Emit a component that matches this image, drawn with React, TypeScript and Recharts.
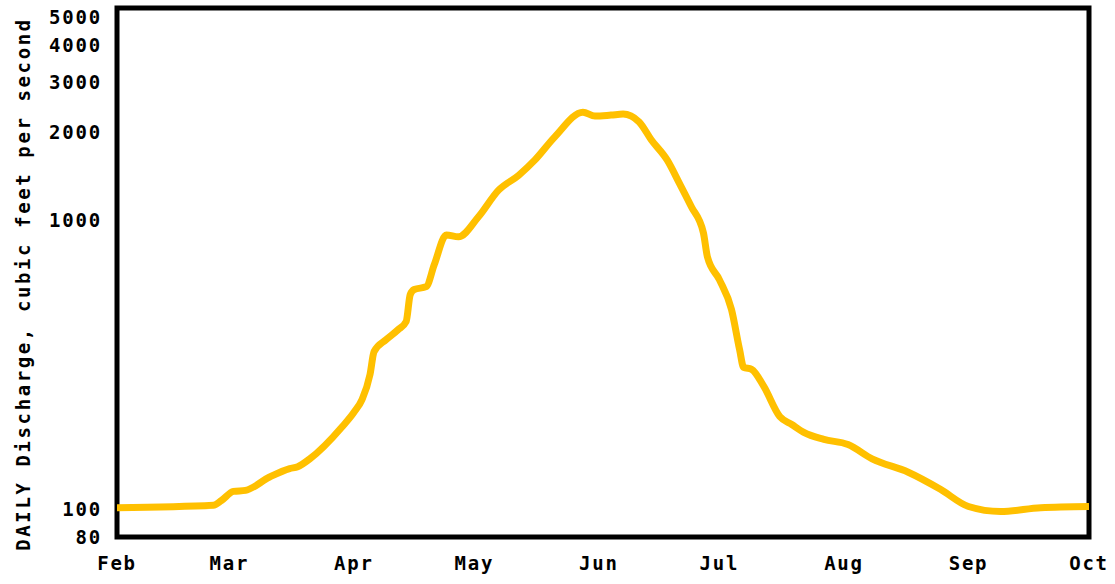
import React from 'react';
import { LineChart, Line, XAxis, YAxis, ReferenceArea, Label } from 'recharts';

const days = [0, 24, 26, 29, 32, 38, 43, 45, 48, 56, 59, 61, 63, 64, 67, 70, 72, 73, 74, 77, 79, 82, 85, 90, 95, 100, 104, 109, 116, 119, 123, 126, 130, 133, 137, 140, 143, 146, 147, 150, 153, 155, 156, 158, 161, 165, 168, 171, 176, 182, 188, 197, 205, 212, 220, 230, 242];
const discharge = [101, 103, 107, 115, 116, 129, 138, 140, 149, 192, 216, 239, 292, 350, 385, 417, 445, 551, 574, 587, 700, 886, 873, 1024, 1266, 1425, 1608, 1936, 2354, 2284, 2302, 2320, 2179, 1892, 1608, 1339, 1109, 901, 744, 620, 489, 356, 309, 304, 266, 209, 196, 184, 174, 167, 149, 134, 117, 102, 98, 101, 102];

const monthTicks = [0, 28, 59, 89, 120, 150, 181, 212, 242];
const monthLabels = ['Feb', 'Mar', 'Apr', 'May', 'Jun', 'Jul', 'Aug', 'Sep', 'Oct'];
const yTicks = [80, 100, 1000, 2000, 3000, 4000, 5000];
const yTitle = 'DAILY Discharge, cubic feet per second';

const data = days.map((d, i) => ({ day: d, q: discharge[i] }));

const FONT = '"DejaVu Sans Mono", "Liberation Mono", monospace';
const tickStyle = { fill: '#000', fontSize: 19, fontFamily: FONT, fontWeight: 'bold', letterSpacing: 1.8 } as any;

export default function App() {
  return (
    <div style={{ position: 'absolute', left: 0, top: 0, background: '#fff' }}>
      <LineChart width={1115} height={584} data={data} margin={{ top: 8, right: 26, bottom: 17, left: 0 }}>
        <XAxis
          dataKey="day"
          type="number"
          domain={[0, 242]}
          ticks={monthTicks}
          interval={0}
          tickFormatter={(v: number) => monthLabels[monthTicks.indexOf(v)]}
          axisLine={false}
          tickLine={false}
          tickSize={6}
          tickMargin={14}
          height={30}
          allowDataOverflow
          tick={tickStyle}
        />
        <YAxis
          type="number"
          scale="log"
          domain={[80, 5400]}
          ticks={yTicks}
          interval={0}
          width={117}
          axisLine={false}
          tickLine={false}
          tickSize={6}
          tickMargin={9}
          allowDataOverflow
          tick={tickStyle}
        >
          <Label
            content={() => (
              <text
                x={23}
                y={284}
                transform="rotate(-90 23 284)"
                textAnchor="middle"
                dominantBaseline="central"
                fill="#000"
                style={{ fontSize: 19, fontFamily: FONT, fontWeight: 'bold', letterSpacing: 2.6 }}
              >
                {yTitle}
              </text>
            )}
          />
        </YAxis>
        <Line
          dataKey="q"
          type="monotone"
          stroke="#FFC000"
          strokeWidth={7}
          dot={false}
          isAnimationActive={false}
        />
        <ReferenceArea
          x1={0}
          x2={242}
          y1={80}
          y2={5400}
          fill="none"
          fillOpacity={0}
          stroke="#000"
          strokeWidth={5}
          ifOverflow="visible"
        />
      </LineChart>
    </div>
  );
}
